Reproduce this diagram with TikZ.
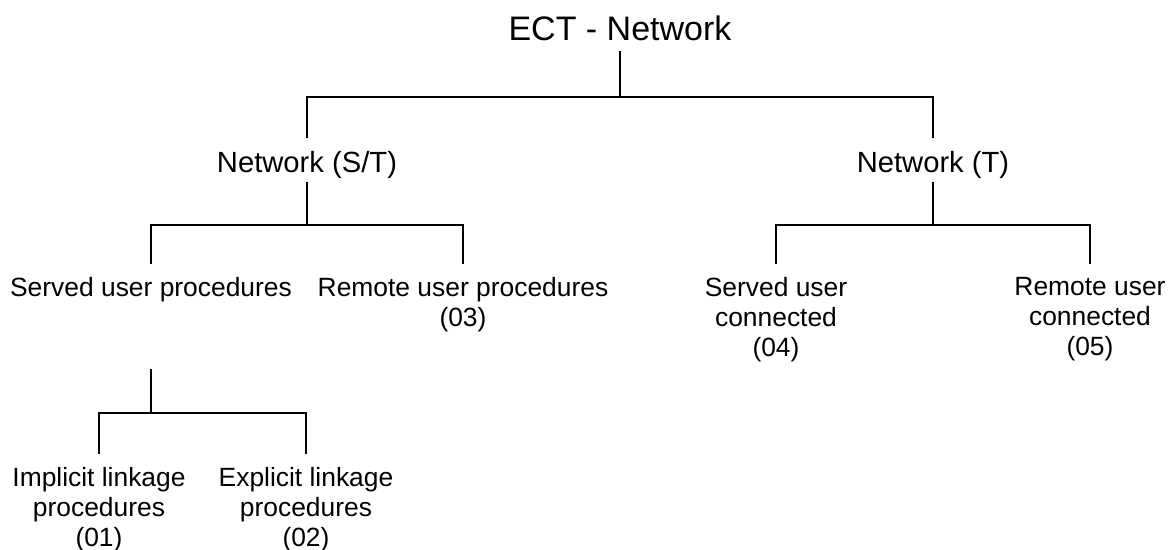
\documentclass[tikz,border=0pt]{standalone}
\usepackage{fontspec}
\setmainfont{Liberation Sans}

\begin{document}
\begin{tikzpicture}[x=0.5pt,y=-0.5pt,
    every node/.style={anchor=north, inner sep=0pt, outer sep=0pt, align=center},
    root/.style={font=\fontsize{17}{19}\selectfont, text depth=0pt},
    branch/.style={font=\fontsize{14.6}{17}\selectfont, text depth=0pt},
    leaf/.style={font=\fontsize{13.2}{15}\selectfont},
    link/.style={line width=1pt, shorten <=5pt, shorten >=6.5pt}]
    \useasboundingbox (0,0) rectangle (1175,550);

    % Top
    \node[root] (ect) at (620,16) {ECT - Network};

    % Networks
    \node[branch] (st) at (307,151) {Network (S/T)};
    \node[branch] (t) at (933,151) {Network (T)};

    % Procedures
    \node[leaf] (sup) at (151,277) {Served user procedures};
    \node[leaf] (rup) at (463,277) {Remote user procedures\\(03)};
    \node[leaf] (suc) at (776,277) {Served user\\connected\\(04)};
    \node[leaf] (ruc) at (1090,277) {Remote user\\connected\\(05)};

    % Linkage
    \node[leaf] (ilp) at (99,467) {Implicit linkage\\procedures\\(01)};
    \node[leaf] (elp) at (306,467) {Explicit linkage\\procedures\\(02)};

    % Tree
    \foreach \kid in {st,t} {
        \draw[link] (ect.south) -- ++(0,56) -| (\kid.north);
    }
    \foreach \kid in {sup,rup} {
        \draw[link] (st.south) -- ++(0,53) -| (\kid.north);
    }
    \foreach \kid in {suc,ruc} {
        \draw[link] (t.south) -- ++(0,53) -| (\kid.north);
    }
    \foreach \kid in {ilp,elp} {
        \draw[link] ([yshift=-28.75pt]sup.south) -- ++(0,54) -| (\kid.north);
    }

\end{tikzpicture}
\end{document}
